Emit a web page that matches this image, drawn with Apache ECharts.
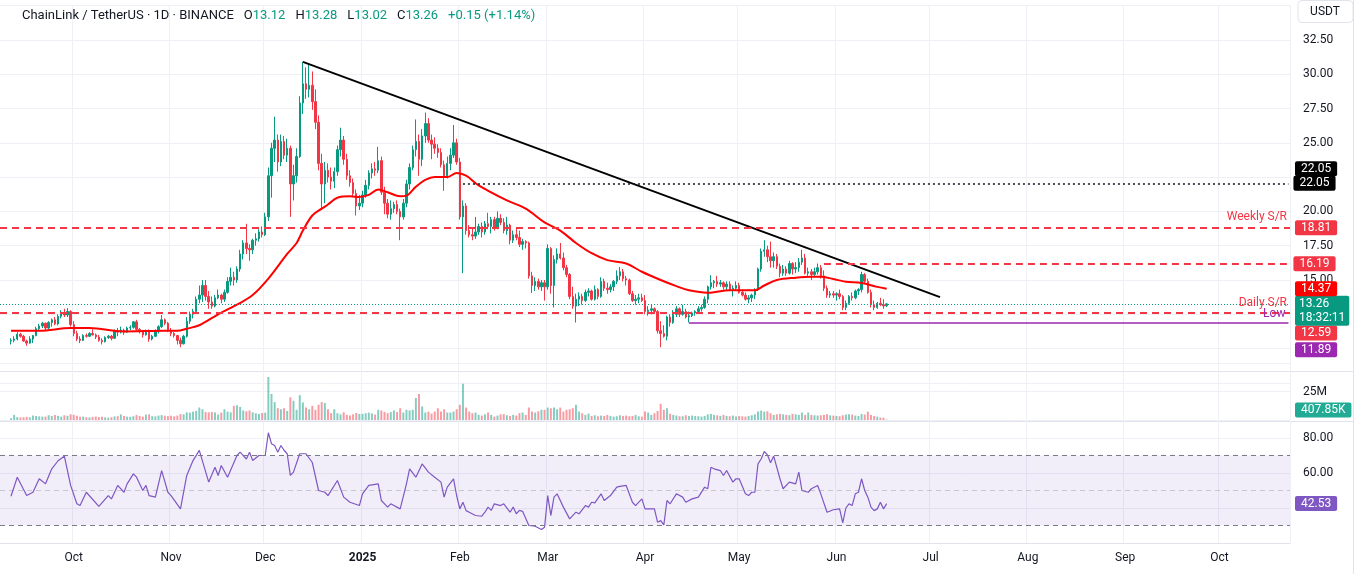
<!DOCTYPE html>
<html>
<head>
<meta charset="utf-8">
<title>ChainLink / TetherUS · 1D</title>
<script src="https://cdn.jsdelivr.net/npm/echarts@6/dist/echarts.min.js"></script>
<style>
  html, body { margin: 0; padding: 0; background: #ffffff; }
  #chart { width: 1365px; height: 574px; }
</style>
</head>
<body>
<div id="chart"></div>
<script>
// ---- time axis: one category per day, Sep 8 2024 .. Oct 23 2025
const firstDay = Date.UTC(2024, 8, 8);
const dayCount = 411;
const firstCandle = '2024-09-11';
const monthNames = ['2025', 'Feb', 'Mar', 'Apr', 'May', 'Jun', 'Jul', 'Aug', 'Sep', 'Oct', 'Nov', 'Dec'];

// ---- daily candles [open, high, low, close]
const sep24 = [
  [10.55,10.75,10.3,10.6],[10.6,10.9,10.45,10.7],[10.7,11.2,10.6,11.05],[11.05,11.15,10.8,10.9],
  [10.9,11.0,10.5,10.55],[10.55,10.65,10.2,10.4],[10.4,10.9,10.35,10.7],[10.7,11.0,10.4,10.95],
  [10.95,11.6,10.9,11.45],[11.45,11.8,11.3,11.65],[11.65,11.95,11.5,11.85],[11.85,11.9,11.3,11.5],
  [11.5,12.0,11.4,11.9],[11.9,12.2,11.6,12.1],[12.1,12.3,11.7,11.8],[11.8,12.5,11.7,12.35],
  [12.35,12.8,12.2,12.6],[12.6,12.9,12.3,12.45],[12.45,12.95,12.3,12.7],[12.7,12.8,11.6,11.75]
];
const oct24 = [
  [11.75,12.0,10.9,11.1],[11.1,11.3,10.55,10.7],[10.7,10.9,10.4,10.6],[10.6,11.05,10.55,10.95],
  [10.95,11.1,10.8,10.9],[10.9,11.2,10.85,11.1],[11.1,11.4,10.95,11.0],[11.0,11.1,10.7,10.85],
  [10.85,11.0,10.5,10.6],[10.6,10.75,10.3,10.5],[10.5,10.9,10.45,10.8],[10.8,11.0,10.7,10.9],
  [10.9,11.0,10.6,10.75],[10.75,11.4,10.7,11.3],[11.3,11.5,10.9,11.2],[11.2,11.6,11.1,11.35],
  [11.35,11.45,11.0,11.2],[11.2,11.6,11.15,11.5],[11.5,11.7,11.35,11.55],[11.55,12.0,11.45,11.95],
  [11.95,12.1,11.3,11.4],[11.4,11.5,11.1,11.3],[11.3,11.35,10.8,11.0],[11.0,11.4,10.95,11.3],
  [11.3,11.4,10.5,10.7],[10.7,11.0,10.6,10.9],[10.9,11.4,10.85,11.3],[11.3,11.7,11.1,11.6],
  [11.6,12.45,11.5,12.1],[12.1,12.2,11.7,11.85],[11.85,11.95,11.2,11.3]
];
const nov24 = [
  [11.3,11.5,10.9,11.1],[11.1,11.2,10.8,10.95],[10.95,11.0,10.3,10.6],[10.6,10.8,10.1,10.35],
  [10.35,11.0,10.3,10.9],[10.9,12.3,10.8,12.0],[12.0,12.7,11.8,12.5],[12.5,12.9,12.2,12.7],
  [12.7,13.8,12.6,13.6],[13.6,14.6,13.3,13.9],[13.9,15.0,13.4,14.6],[14.6,15.0,13.5,13.8],
  [13.8,14.2,12.9,13.4],[13.4,13.8,12.9,13.1],[13.1,13.9,13.0,13.7],[13.7,14.3,13.6,13.9],
  [13.9,14.0,13.3,13.6],[13.6,14.3,13.4,14.1],[14.1,15.2,14.0,14.9],[14.9,15.9,14.6,15.2],
  [15.2,15.6,14.6,15.0],[15.0,16.0,14.8,15.8],[15.8,17.2,15.6,16.9],[16.9,17.9,16.5,17.7],
  [17.7,19.1,16.9,17.3],[17.3,17.6,16.4,17.2],[17.2,18.0,16.9,17.9],[17.9,18.4,17.5,18.0],
  [18.0,18.7,17.8,18.5],[18.5,18.9,18.1,18.3]
];
const dec24 = [
  [18.3,19.9,18.2,19.6],[19.6,23.2,19.3,22.6],[22.6,25.0,21.0,24.6],[24.6,26.9,23.6,25.2],
  [25.2,25.6,22.9,23.6],[23.6,25.6,23.3,25.1],[25.1,25.5,23.8,24.1],[24.1,25.3,23.6,24.6],
  [24.6,24.8,19.6,22.0],[22.0,23.4,20.8,22.6],[22.6,24.6,22.1,24.0],[24.0,28.4,23.9,27.9],
  [27.9,30.9,27.1,29.3],[29.3,30.5,28.2,28.9],[28.9,30.8,28.3,29.2],[29.2,30.2,27.4,28.0],
  [28.0,28.9,26.0,26.5],[26.5,27.0,23.0,23.5],[23.5,24.2,20.1,22.0],[22.0,23.6,20.6,23.0],
  [23.0,23.5,22.1,22.5],[22.5,23.2,21.6,22.2],[22.2,23.2,21.7,22.9],[22.9,24.8,22.6,24.5],
  [24.5,26.1,24.0,25.2],[25.2,25.5,23.4,23.8],[23.8,24.2,22.3,22.6],[22.6,23.0,21.8,22.1],
  [22.1,22.4,21.1,21.3],[21.3,21.6,19.7,20.4],[20.4,21.2,20.1,20.6]
];
const jan25 = [
  [20.6,21.5,20.3,21.2],[21.2,22.3,21.0,21.9],[21.9,23.0,21.6,22.8],[22.8,23.5,22.4,23.1],
  [23.1,23.6,22.6,23.0],[23.0,24.7,22.8,23.7],[23.7,24.0,21.2,21.4],[21.4,21.8,19.8,20.6],
  [20.6,20.9,19.5,19.8],[19.8,20.8,19.4,20.2],[20.2,20.7,19.9,20.5],[20.5,20.8,19.8,20.0],
  [20.0,20.2,17.9,19.6],[19.6,20.9,19.4,20.6],[20.6,22.3,20.3,22.0],[22.0,23.5,21.6,23.2],
  [23.2,24.8,23.0,24.5],[24.5,26.7,24.0,25.1],[25.1,25.6,22.6,23.8],[23.8,26.0,23.3,25.5],
  [25.5,27.2,25.0,26.4],[26.4,26.8,25.0,25.2],[25.2,25.6,23.8,24.9],[24.9,25.4,24.2,24.6],
  [24.6,24.9,23.9,24.3],[24.3,24.6,23.2,23.4],[23.4,23.7,21.5,22.6],[22.6,24.0,22.4,23.5],
  [23.5,24.6,23.0,24.1],[24.1,26.3,23.9,25.0],[25.0,25.3,23.4,23.6]
];
const feb25 = [
  [23.6,23.9,19.4,19.6],[19.6,20.8,15.5,20.4],[20.4,20.6,18.3,18.6],[18.6,19.0,18.1,18.3],
  [18.3,18.8,17.9,18.2],[18.2,19.6,18.0,18.5],[18.5,19.1,18.3,18.9],[18.9,19.2,18.1,18.5],
  [18.5,19.3,18.3,19.1],[19.1,19.9,18.7,18.9],[18.9,19.6,18.4,19.4],[19.4,19.6,18.6,18.8],
  [18.8,20.0,18.7,19.5],[19.5,19.8,19.0,19.2],[19.2,19.5,18.4,18.6],[18.6,19.6,18.3,19.0],
  [19.0,19.1,17.6,17.9],[17.9,18.6,17.7,18.3],[18.3,18.8,17.9,18.1],[18.1,18.6,17.4,17.6],
  [17.6,18.0,17.2,17.8],[17.8,17.9,17.3,17.7],[17.7,17.8,15.1,15.3],[15.3,15.6,14.05,14.6],
  [14.6,15.2,14.2,14.9],[14.9,15.1,14.3,14.5],[14.5,15.0,14.2,14.8],[14.8,15.0,13.5,14.5]
];
const mar25 = [
  [14.5,17.6,14.3,17.3],[17.3,17.4,14.0,14.6],[14.6,16.8,13.0,16.5],[16.5,17.3,16.2,16.9],
  [16.9,17.7,16.5,16.6],[16.6,17.0,15.7,15.9],[15.9,16.1,15.2,15.4],[15.4,15.5,13.6,13.8],
  [13.8,14.5,12.9,13.1],[13.1,14.0,11.9,13.6],[13.6,14.1,13.1,13.8],[13.8,14.0,13.2,13.5],
  [13.5,14.3,13.4,14.1],[14.1,14.4,13.8,14.2],[14.2,14.3,13.5,13.6],[13.6,14.6,13.5,14.3],
  [14.3,14.4,13.6,13.8],[13.8,15.2,13.7,14.9],[14.9,15.1,14.2,14.4],[14.4,14.8,14.0,14.3],
  [14.3,14.7,14.1,14.5],[14.5,15.0,14.2,14.9],[14.9,15.7,14.7,15.3],[15.3,15.95,15.0,15.6],
  [15.6,15.8,14.9,15.1],[15.1,15.3,14.6,15.0],[15.0,15.1,13.9,14.0],[14.0,14.2,13.4,13.5],
  [13.5,13.9,13.2,13.6],[13.6,14.0,13.3,13.7],[13.7,14.0,13.4,13.5]
];
const apr25 = [
  [13.5,13.9,12.5,12.7],[12.7,13.1,12.4,12.8],[12.8,13.2,12.5,12.9],[12.9,13.0,12.6,12.7],
  [12.7,12.8,11.1,11.3],[11.3,12.0,10.1,11.1],[11.1,11.7,10.8,10.9],[10.9,12.4,10.6,12.3],
  [12.3,12.5,11.6,11.9],[11.9,12.8,11.8,12.5],[12.5,13.1,12.3,12.9],[12.9,13.0,12.3,12.5],
  [12.5,13.2,12.4,12.7],[12.7,12.9,12.2,12.3],[12.3,12.7,11.9,12.4],[12.4,12.7,12.3,12.6],
  [12.6,12.8,12.4,12.7],[12.7,13.1,12.6,12.9],[12.9,13.2,12.7,13.0],[13.0,13.8,12.9,13.6],
  [13.6,14.6,13.3,14.5],[14.5,15.35,14.3,14.8],[14.8,15.0,14.4,14.9],[14.9,15.3,14.5,14.7],
  [14.7,15.0,14.5,14.8],[14.8,14.9,14.3,14.5],[14.5,14.9,14.2,14.7],[14.7,14.9,14.2,14.3],
  [14.3,14.6,13.8,14.4],[14.4,14.9,14.2,14.6]
];
const may25 = [
  [14.6,14.8,14.0,14.1],[14.1,14.3,13.8,13.9],[13.9,14.1,13.5,13.6],[13.6,13.9,13.3,13.7],
  [13.7,14.0,13.4,13.9],[13.9,14.4,13.6,14.3],[14.3,15.9,14.2,15.8],[15.8,17.3,15.6,17.1],
  [17.1,17.9,16.7,17.2],[17.2,17.5,16.3,16.7],[16.7,17.8,15.9,16.4],[16.4,17.0,15.9,16.7],
  [16.7,16.9,15.8,16.0],[16.0,16.2,15.2,15.5],[15.5,16.1,15.3,15.8],[15.8,16.0,15.3,15.5],
  [15.5,16.4,15.4,16.2],[16.2,16.3,15.4,15.8],[15.8,16.3,15.5,15.9],[15.9,16.6,15.6,16.3],
  [16.3,17.2,16.1,16.6],[16.6,16.9,15.4,15.5],[15.5,15.9,15.3,15.6],[15.6,15.8,15.0,15.4],
  [15.4,15.9,15.3,15.6],[15.6,16.2,15.4,15.9],[15.9,16.1,15.1,15.3],[15.3,15.7,14.2,14.4],
  [14.4,14.6,13.7,13.9],[13.9,14.2,13.7,14.0],[14.0,14.2,13.7,13.9]
];
const jun25 = [
  [13.9,14.1,13.5,14.0],[14.0,14.3,13.6,13.8],[13.8,13.9,12.8,13.0],[13.0,13.5,12.8,13.3],
  [13.3,13.9,13.2,13.8],[13.8,14.1,13.5,13.7],[13.7,14.3,13.6,14.2],[14.2,14.4,13.9,14.3],
  [14.3,15.6,14.1,15.4],[15.4,15.5,14.7,14.9],[14.9,15.1,14.0,14.1],[14.1,14.3,13.0,13.2],
  [13.2,13.5,12.8,13.0],[13.0,13.4,12.9,13.3],[13.3,13.7,13.1,13.2],[13.2,13.6,12.9,13.11],
  [13.12,13.28,13.02,13.26]
];

// ---- daily volume, millions of LINK
const volSep24 = [1.5,4.5,2.5,2.2,2.4,2.8,2.4,3.9,3.5,3.2,3.0,3.0,4.2,3.6,4.4,3.6,3.0,4.2,3.6,5.0];
const volOct24 = [4.6,3.8,2.9,3.0,2.5,2.2,2.8,3.0,2.6,2.8,2.3,2.0,2.4,3.2,3.4,5.0,3.6,3.0,2.8,3.3,4.4,3.6,3.0,4.8,5.0,3.4,3.2,3.9,4.3,3.8,3.4];
const volNov24 = [3.8,3.2,3.9,5.2,5.0,6.8,6.5,7.4,8.0,11.0,9.5,7.0,6.8,7.0,6.6,4.9,6.5,9.5,7.4,6.8,12.5,13.0,11.6,8.4,7.7,8.4,6.8,5.9,5.4,6.2];
const volDec24 = [6.5,38.0,23.0,15.8,10.4,9.5,10.4,8.0,20.0,17.0,9.0,22.0,15.5,11.0,9.5,12.5,9.0,13.5,15.8,15.0,9.5,6.0,9.5,6.0,5.0,6.8,4.5,4.0,5.0,6.2,5.4];
const volJan25 = [5.4,6.0,6.5,5.8,4.8,9.0,8.4,7.2,6.0,7.0,8.4,7.0,10.4,6.6,9.0,8.4,9.0,19.4,23.0,12.0,6.6,7.4,5.7,7.5,10.4,7.6,9.5,6.6,6.6,7.4,9.5];
const volFeb25 = [13.4,32.0,11.0,7.4,6.0,6.6,4.5,3.9,5.1,6.6,4.5,3.0,3.9,5.0,5.1,4.2,3.6,4.5,3.9,6.0,6.6,4.5,11.0,7.4,6.6,7.7,9.0,9.0];
const volMar25 = [11.0,10.4,11.0,9.5,11.0,7.4,9.0,9.5,10.4,13.4,7.4,6.0,4.5,5.7,3.6,4.2,3.3,3.9,3.6,4.5,3.6,3.0,3.3,4.2,3.6,3.9,3.3,3.6,4.5,3.3,3.0];
const volApr25 = [7.4,6.6,4.5,6.0,8.0,14.3,9.0,10.4,5.4,4.5,3.9,3.3,3.3,4.2,3.6,3.9,3.6,3.3,3.0,3.6,5.0,5.4,4.5,4.2,3.6,4.5,3.6,3.3,3.9,3.0];
const volMay25 = [3.6,3.3,3.0,3.6,4.2,5.0,7.4,8.3,7.4,7.7,6.0,4.5,5.0,5.4,5.0,4.5,4.2,5.4,5.0,4.5,6.6,4.5,6.6,4.5,4.2,3.9,4.2,4.5,5.1,4.2,3.9];
const volJun25 = [3.6,3.3,4.2,4.8,5.0,4.8,3.9,3.6,5.4,4.8,7.4,4.5,3.6,3.0,2.1,2.0,0.40785];

// ---- SMA 50 [date, value]
const sma50 = [
  ['2024-09-11',11.3],['2024-09-20',11.3],['2024-09-30',11.5],['2024-10-06',11.5],['2024-10-17',11.25],
  ['2024-10-30',11.3],['2024-11-03',11.3],['2024-11-06',11.45],['2024-11-10',11.7],['2024-11-16',12.5],
  ['2024-11-22',13.2],['2024-11-27',13.9],['2024-12-02',15.1],['2024-12-08',16.9],['2024-12-11',17.7],
  ['2024-12-13',18.6],['2024-12-16',19.7],['2024-12-19',20.2],['2024-12-21',20.5],['2024-12-24',21.0],
  ['2024-12-28',21.1],['2024-12-31',21.05],['2025-01-03',21.2],['2025-01-06',21.6],['2025-01-09',21.4],
  ['2025-01-13',21.1],['2025-01-15',21.15],['2025-01-18',21.8],['2025-01-21',22.3],['2025-01-24',22.5],
  ['2025-01-28',22.5],['2025-01-31',22.8],['2025-02-03',22.6],['2025-02-07',21.9],['2025-02-16',20.8],
  ['2025-02-22',20.2],['2025-02-28',19.2],['2025-03-05',18.6],['2025-03-10',17.7],['2025-03-15',16.95],
  ['2025-03-20',16.45],['2025-03-26',16.2],['2025-03-31',15.6],['2025-04-06',15.0],['2025-04-11',14.55],
  ['2025-04-15',14.25],['2025-04-21',14.07],['2025-04-28',14.25],['2025-05-06',14.25],['2025-05-09',14.6],
  ['2025-05-13',15.0],['2025-05-19',15.17],['2025-05-24',15.24],['2025-05-27',15.24],['2025-05-31',15.07],
  ['2025-06-04',14.88],['2025-06-09',14.78],['2025-06-14',14.5],['2025-06-17',14.37]
];

// ---- RSI 14 [date, value]
const rsi14 = [
  ['2024-09-11',46.7],['2024-09-13',57.6],['2024-09-16',47.1],['2024-09-18',49],['2024-09-20',56.7],
  ['2024-09-22',53.8],['2024-09-24',62.4],['2024-09-26',67],['2024-09-28',69.6],['2024-09-30',52.9],
  ['2024-10-02',42.4],['2024-10-03',41.4],['2024-10-05',49],['2024-10-09',40.9],['2024-10-12',47.1],
  ['2024-10-13',45.2],['2024-10-15',52.9],['2024-10-17',49],['2024-10-18',53.8],['2024-10-20',59.5],
  ['2024-10-21',57.6],['2024-10-23',50],['2024-10-24',52.9],['2024-10-25',47.1],['2024-10-27',46.2],
  ['2024-10-29',61.4],['2024-10-31',49],['2024-11-01',47.1],['2024-11-04',39.5],['2024-11-06',58.6],
  ['2024-11-08',67.1],['2024-11-10',72.9],['2024-11-13',54.8],['2024-11-15',63.3],['2024-11-16',58.6],
  ['2024-11-17',64.3],['2024-11-19',57.6],['2024-11-22',70],['2024-11-23',71.9],['2024-11-25',68],
  ['2024-11-26',71.9],['2024-11-27',67.1],['2024-11-29',70],['2024-12-01',70],['2024-12-02',83],
  ['2024-12-03',76.7],['2024-12-04',75.7],['2024-12-05',71.9],['2024-12-06',75.7],['2024-12-07',73],
  ['2024-12-08',71],['2024-12-09',58.6],['2024-12-10',60.5],['2024-12-12',71],['2024-12-14',71],
  ['2024-12-16',66],['2024-12-18',50],['2024-12-20',49],['2024-12-21',47.1],['2024-12-24',55.7],
  ['2024-12-26',46.2],['2024-12-28',43.3],['2024-12-31',41.4],['2025-01-01',48.1],['2025-01-03',52.9],
  ['2025-01-06',53.8],['2025-01-07',44.3],['2025-01-09',40.5],['2025-01-10',42.4],['2025-01-13',39.5],
  ['2025-01-15',53.8],['2025-01-16',62.4],['2025-01-18',57.6],['2025-01-20',65.2],['2025-01-22',60.5],
  ['2025-01-24',57.6],['2025-01-26',54.8],['2025-01-27',46.2],['2025-01-28',51.9],['2025-01-30',56.7],
  ['2025-01-31',47],['2025-02-01',39.5],['2025-02-02',43.3],['2025-02-03',38.5],['2025-02-04',37.6],
  ['2025-02-06',35.7],['2025-02-08',35.3],['2025-02-09',37.6],['2025-02-10',40.5],['2025-02-11',38.6],
  ['2025-02-12',42.4],['2025-02-14',41.4],['2025-02-15',42.4],['2025-02-17',37.6],['2025-02-18',40.5],
  ['2025-02-19',36.7],['2025-02-20',38.6],['2025-02-21',38.1],['2025-02-23',30],['2025-02-25',29.6],
  ['2025-02-27',27.7],['2025-02-28',29],['2025-03-01',47.1],['2025-03-02',35.7],['2025-03-03',46.2],
  ['2025-03-04',48.1],['2025-03-06',40.5],['2025-03-08',33.8],['2025-03-10',37.6],['2025-03-11',36.7],
  ['2025-03-13',41.4],['2025-03-14',40.5],['2025-03-15',43.3],['2025-03-16',42.9],['2025-03-18',48.1],
  ['2025-03-19',44.3],['2025-03-21',47.1],['2025-03-23',51.9],['2025-03-24',52.4],['2025-03-26',52.9],
  ['2025-03-28',43.3],['2025-03-29',41.4],['2025-03-31',45.2],['2025-04-01',39.5],['2025-04-04',39.5],
  ['2025-04-05',31.9],['2025-04-06',32.8],['2025-04-07',30.4],['2025-04-08',44.3],['2025-04-09',42.4],
  ['2025-04-11',48.1],['2025-04-13',46.2],['2025-04-14',43.3],['2025-04-16',45.2],['2025-04-18',46.2],
  ['2025-04-20',51.9],['2025-04-21',51],['2025-04-22',63.3],['2025-04-23',62.4],['2025-04-25',61.4],
  ['2025-04-26',58.6],['2025-04-27',61.4],['2025-04-29',54.8],['2025-04-30',56.7],['2025-05-01',56.7],
  ['2025-05-03',48.1],['2025-05-04',47.1],['2025-05-05',49],['2025-05-06',49],['2025-05-07',65.2],
  ['2025-05-08',68],['2025-05-09',72.3],['2025-05-10',70.4],['2025-05-11',65.8],['2025-05-12',69.6],
  ['2025-05-14',56.7],['2025-05-15',51],['2025-05-17',54.8],['2025-05-19',53.8],['2025-05-20',60.5],
  ['2025-05-21',50],['2025-05-23',49],['2025-05-24',51],['2025-05-26',52.9],['2025-05-27',48.1],
  ['2025-05-29',37.6],['2025-05-31',39],['2025-06-02',39.5],['2025-06-03',31.5],['2025-06-04',40],
  ['2025-06-05',42.4],['2025-06-06',41.4],['2025-06-07',48.1],['2025-06-08',49],['2025-06-09',56.7],
  ['2025-06-10',50],['2025-06-11',46.2],['2025-06-12',40.5],['2025-06-13',38.5],['2025-06-14',39.5],
  ['2025-06-15',43.3],['2025-06-16',39.5],['2025-06-17',42.53]
];

// ---- drawn levels
const trendStart = ['2024-12-13', 30.9];
const trendEnd = ['2025-07-04', 13.75];
const weeklySR = 18.81;
const dailySR = 12.59;
const upperSR = 16.19;
const upperSRFrom = '2025-05-28';
const prevHigh = 22.05;
const prevHighFrom = '2025-02-02';
const lowLevel = 11.89;
const lowFrom = '2025-04-15';
const smaLast = 14.37;
const rsiLast = 42.53;
const volLast = 407.85; // K
const countdown = '18:32:11';

// ---- axis ranges
const priceMin = 7.5, priceMax = 35, priceStep = 2.5;
const hiddenPriceTicks = [7.5, 10, 12.5, 22.5, 35];
const volMax = 50, volStep = 25;
const rsiMin = 20, rsiMax = 90, rsiStep = 20;

const UP = '#089981', DOWN = '#f23645', SR = '#f23645';

const dates = [];
for (let i = 0; i < dayCount; i++) dates.push(new Date(firstDay + i * 864e5).toISOString().slice(0, 10));
const at = d => dates.indexOf(d);
const lastIdx = dayCount - 1;

const ohlc = [].concat(sep24, oct24, nov24, dec24, jan25, feb25, mar25, apr25, may25, jun25);
const volume = [].concat(volSep24, volOct24, volNov24, volDec24, volJan25, volFeb25, volMar25, volApr25, volMay25, volJun25);
const start = at(firstCandle);
const last = ohlc[ohlc.length - 1];
const prevClose = ohlc[ohlc.length - 2][3];

const candleData = dates.map((d, i) => {
  const c = ohlc[i - start];
  return c ? [c[0], c[3], c[2], c[1]] : '-';
});
const volData = dates.map((d, i) => {
  const c = ohlc[i - start];
  if (!c) return '-';
  return { value: volume[i - start], itemStyle: { color: c[3] >= c[0] ? 'rgba(8,153,129,0.5)' : 'rgba(242,54,69,0.5)' } };
});
const smaData = sma50.map(p => [at(p[0]), p[1]]);
const rsiData = rsi14.map(p => [at(p[0]), p[1]]);

// price grid geometry (px)
const priceTop = 5.6, priceHeight = 377.3;
const pxPerUnit = priceHeight / (priceMax - priceMin);
const shifted = (v, px) => v - px / pxPerUnit;

const isMonthStart = (i, v) => v.slice(8) === '01';
const fontFamily = 'Roboto, "Noto Sans", sans-serif';

function timeAxis(gridIndex, withLabels) {
  return {
    type: 'category', gridIndex, data: dates, boundaryGap: true,
    axisLine: { show: withLabels, lineStyle: { color: '#e0e3eb' } },
    axisTick: { show: false },
    axisLabel: {
      show: withLabels, interval: isMonthStart, color: '#131722', fontSize: 12, margin: 9, fontFamily,
      formatter: v => {
        const m = +v.slice(5, 7);
        return m === 1 ? '{y|' + v.slice(0, 4) + '}' : monthNames[m - 1];
      },
      rich: { y: { fontWeight: 'bold', fontSize: 12, color: '#131722', fontFamily } }
    },
    splitLine: { show: true, interval: isMonthStart, lineStyle: { color: '#eef0f5' } }
  };
}

function box(text, bg) {
  return {
    show: true, position: 'end', distance: 5, formatter: text,
    backgroundColor: bg, color: '#fff', fontSize: 12, lineHeight: 13, padding: [1, 6, 1, 6],
    borderRadius: 2, fontFamily
  };
}
// invisible carrier line for an axis price box
const clear = { color: 'rgba(0,0,0,0)', width: 1 };
const dashed = { color: SR, type: [7, 5], width: 2 };

const chart = echarts.init(document.getElementById('chart'));
const change = last[3] - prevClose;

const option = {
  animation: false,
  backgroundColor: '#ffffff',
  title: {
    left: 17, top: 2,
    text: '{n|ChainLink / TetherUS · 1D · BINANCE}  {k|O}{g|' + last[0].toFixed(2) + '}  {k|H}{g|' + last[1].toFixed(2) +
      '}  {k|L}{g|' + last[2].toFixed(2) + '}  {k|C}{g|' + last[3].toFixed(2) + '}  {g|+' + change.toFixed(2) +
      ' (+' + (change / prevClose * 100).toFixed(2) + '%)}',
    textStyle: {
      fontWeight: 'normal',
      rich: {
        n: { fontSize: 13, color: '#131722', fontFamily, fontWeight: 'normal' },
        k: { fontSize: 13, color: '#131722', fontFamily, fontWeight: 'normal' },
        g: { fontSize: 13, color: UP, fontFamily, fontWeight: 'normal' }
      }
    }
  },
  graphic: [
    { type: 'rect', shape: { x: 1298, y: 0.5, width: 55, height: 22, r: 4 }, style: { fill: '#fff', stroke: '#e0e3eb' } },
    { type: 'text', x: 1325, y: 11.5, style: { text: 'USDT', fill: '#131722', fontSize: 12, fontFamily, align: 'center', verticalAlign: 'middle' } },
    { type: 'line', shape: { x1: 0, y1: 371.5, x2: 1353, y2: 371.5 }, style: { stroke: '#e0e3eb', lineWidth: 1 } },
    { type: 'line', shape: { x1: 0, y1: 421.5, x2: 1353, y2: 421.5 }, style: { stroke: '#e0e3eb', lineWidth: 1 } },
    { type: 'line', shape: { x1: 1353.5, y1: 0, x2: 1353.5, y2: 574 }, style: { stroke: '#e0e3eb', lineWidth: 1 } }
  ],
  grid: [
    { left: 0, right: 75, top: priceTop, height: priceHeight },
    { left: 0, right: 75, top: 363.4, height: 56.6 },
    { left: 0, right: 75, top: 420.5, height: 122.5 }
  ],
  xAxis: [timeAxis(0, false), timeAxis(1, false), timeAxis(2, true)],
  yAxis: [
    {
      type: 'value', gridIndex: 0, position: 'right', min: priceMin, max: priceMax, interval: priceStep,
      axisLine: { show: false }, axisTick: { show: false },
      axisLabel: { color: '#131722', fontSize: 12, margin: 13, fontFamily,
        formatter: v => hiddenPriceTicks.includes(v) ? '' : v.toFixed(2) },
      splitLine: { lineStyle: { color: '#eef0f5' } }
    },
    {
      type: 'value', gridIndex: 1, position: 'right', min: 0, max: volMax, interval: volStep,
      axisLine: { show: false }, axisTick: { show: false },
      axisLabel: { color: '#131722', fontSize: 12, margin: 13, fontFamily, formatter: v => v === 25 ? '25M' : '' },
      splitLine: { lineStyle: { color: '#eef0f5' } }
    },
    {
      type: 'value', gridIndex: 2, position: 'right', min: rsiMin, max: rsiMax, interval: rsiStep,
      axisLine: { show: false }, axisTick: { show: false },
      axisLabel: { color: '#131722', fontSize: 12, margin: 13, fontFamily,
        formatter: v => (v === 80 || v === 60) ? v.toFixed(2) : '' },
      splitLine: { lineStyle: { color: '#eef0f5' } }
    }
  ],
  series: [
    {
      name: 'LINKUSDT', type: 'candlestick', xAxisIndex: 0, yAxisIndex: 0, data: candleData,
      barWidth: '62%',
      itemStyle: { color: UP, color0: DOWN, borderColor: UP, borderColor0: DOWN, borderWidth: 1 },
      markLine: {
        silent: true, symbol: ['none', 'none'], animation: false,
        label: { show: false },
        data: [
          // descending trend line
          [{ coord: [at(trendStart[0]), trendStart[1]], lineStyle: { color: '#000', width: 2, type: 'solid' } },
           { coord: [at(trendEnd[0]), trendEnd[1]] }],
          // current price dotted line
          { yAxis: last[3], lineStyle: { color: UP, type: [1, 2], width: 1 } },
          // previous high, dotted
          [{ coord: [at(prevHighFrom), prevHigh], lineStyle: { color: '#131722', type: [2, 3], width: 1.5 },
             label: box(prevHigh.toFixed(2), '#000') },
           { coord: [lastIdx, prevHigh] }],
          { yAxis: shifted(prevHigh, -14.5), lineStyle: clear, label: box(prevHigh.toFixed(2), '#000') },
          // weekly S/R
          { yAxis: weeklySR, lineStyle: dashed,
            label: { show: true, position: 'insideEndTop', formatter: 'Weekly S/R', color: SR, fontSize: 12, fontFamily, distance: [3, 5] } },
          { yAxis: weeklySR, lineStyle: clear, label: box(weeklySR.toFixed(2), '#f23645') },
          // upper S/R
          [{ coord: [at(upperSRFrom), upperSR], lineStyle: dashed, label: box(upperSR.toFixed(2), '#f23645') },
           { coord: [lastIdx, upperSR] }],
          // daily S/R
          { yAxis: dailySR, lineStyle: dashed,
            label: { show: true, position: 'insideEndTop', formatter: 'Daily S/R', color: SR, fontSize: 12, fontFamily, distance: [3, 4] } },
          { yAxis: shifted(dailySR, 20), lineStyle: clear, label: box(dailySR.toFixed(2), '#f23645') },
          // low
          [{ coord: [at(lowFrom), lowLevel], lineStyle: { color: '#9c27b0', width: 1.5, type: 'solid' },
             label: { show: true, position: 'insideEndTop', formatter: 'Low', color: '#9c27b0', fontSize: 12, fontFamily, distance: [3, 3] } },
           { coord: [lastIdx, lowLevel] }],
          { yAxis: shifted(lowLevel, 27), lineStyle: clear, label: box(lowLevel.toFixed(2), '#9c27b0') },
          // current price box with countdown
          { yAxis: shifted(last[3], 7), lineStyle: clear,
            label: Object.assign(box(last[3].toFixed(2) + '\n' + countdown, UP), { lineHeight: 14, padding: [1, 4, 1, 4] }) },
          // SMA value box
          { yAxis: smaLast, lineStyle: clear, label: box(smaLast.toFixed(2), '#ff0000') }
        ]
      }
    },
    {
      name: 'SMA 50', type: 'line', xAxisIndex: 0, yAxisIndex: 0, data: smaData,
      smooth: 0.35, showSymbol: false, lineStyle: { color: '#ff0000', width: 2 }, z: 3
    },
    {
      name: 'Volume', type: 'bar', xAxisIndex: 1, yAxisIndex: 1, data: volData, barWidth: '62%',
      markLine: {
        silent: true, symbol: ['none', 'none'],
        data: [{ yAxis: volLast / 1000 + 8.5, lineStyle: clear, label: box(volLast.toFixed(2) + 'K', '#22ab94') }]
      }
    },
    {
      name: 'RSI', type: 'line', xAxisIndex: 2, yAxisIndex: 2, data: rsiData,
      showSymbol: false, lineStyle: { color: '#7e57c2', width: 1.2 },
      markArea: { silent: true, itemStyle: { color: 'rgba(126,87,194,0.1)' }, data: [[{ yAxis: 30 }, { yAxis: 70 }]] },
      markLine: {
        silent: true, symbol: ['none', 'none'], label: { show: false },
        data: [
          { yAxis: 70, lineStyle: { color: '#787b86', type: [5, 4], width: 1 } },
          { yAxis: 30, lineStyle: { color: '#787b86', type: [5, 4], width: 1 } },
          { yAxis: 50, lineStyle: { color: 'rgba(120,123,134,0.35)', type: [5, 4], width: 1 } },
          { yAxis: rsiLast, lineStyle: clear, label: box(rsiLast.toFixed(2), '#7e57c2') }
        ]
      }
    }
  ]
};

chart.setOption(option);
window.addEventListener('resize', () => chart.resize());
</script>
</body>
</html>
